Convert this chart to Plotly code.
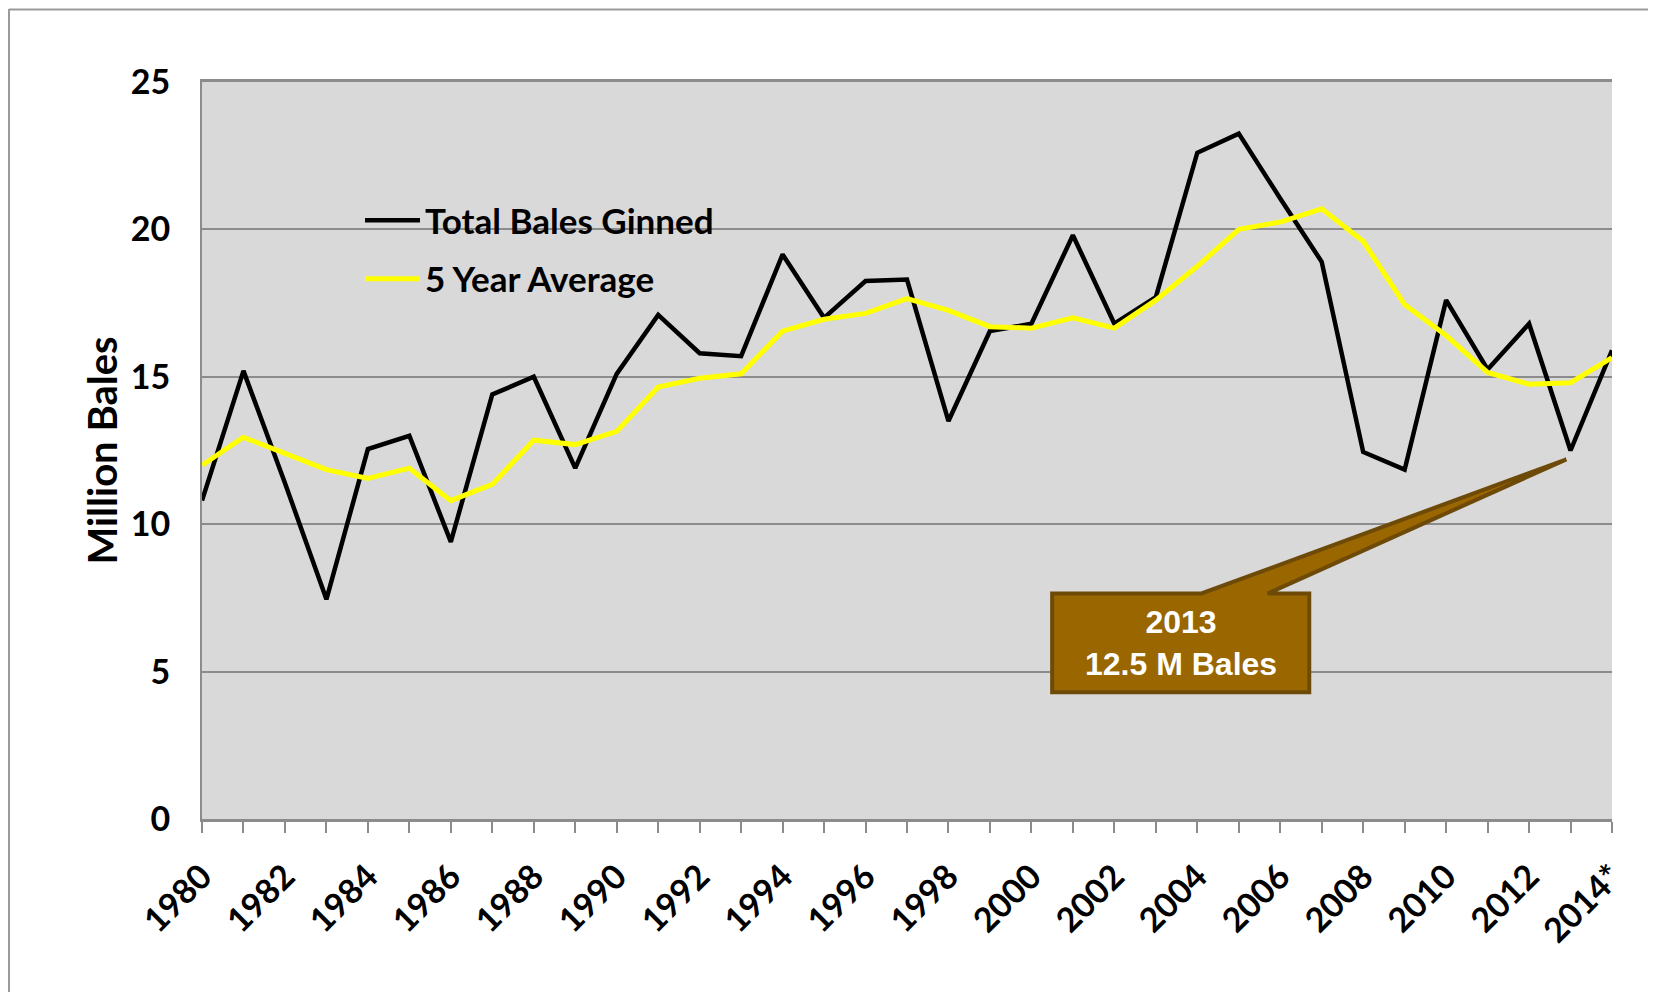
import plotly.graph_objects as go

years = list(range(1980, 2015))
year_labels = [str(y) if y % 2 == 0 else "" for y in years]
year_labels[-1] = "2014*"

total_bales = [10.8, 15.2, 11.4, 7.45, 12.55, 13.0, 9.4, 14.4, 15.0, 11.9,
               15.1, 17.1, 15.8, 15.7, 19.15, 17.0, 18.25, 18.3, 13.5, 16.55,
               16.8, 19.8, 16.8, 17.7, 22.6, 23.25, 21.05, 18.9, 12.45, 11.85,
               17.6, 15.25, 16.8, 12.5, 15.9]
five_yr_avg = [12.0, 12.95, 12.4, 11.85, 11.55, 11.9, 10.8, 11.35, 12.85, 12.7,
               13.15, 14.65, 14.95, 15.1, 16.55, 16.95, 17.15, 17.65, 17.25, 16.7,
               16.65, 17.0, 16.65, 17.6, 18.75, 20.0, 20.25, 20.7, 19.6, 17.45,
               16.4, 15.15, 14.75, 14.8, 15.65]

callout_year = 2013
callout_text = "2013<br>12.5 M Bales"

# page body has an 8px margin, so the figure is laid out 8px smaller
W, H = 1648, 984
L, R, T, B = 194, 44, 74, 173
PW, PH = W - L - R, H - T - B


def px(x):
    return (x - L) / PW


def py(y):
    return (H - B - y) / PH


TICKFONT = dict(family="Lato", size=34, color="black", weight="bold")

fig = go.Figure()
fig.add_trace(go.Scatter(x=years, y=total_bales, mode="lines", name="Total Bales Ginned",
                         line=dict(color="black", width=4.5), legendgroup="a"))
fig.add_trace(go.Scatter(x=years, y=five_yr_avg, mode="lines", name="5 Year Average",
                         line=dict(color="#ffff00", width=5), legendgroup="b"))

# callout box with wedge pointing at the 2013 value
i13 = years.index(callout_year)
tip_x, tip_y = callout_year - 0.1, total_bales[i13] - 0.3
bx0, bx1, by0, by1 = 2000.5, 2006.7, 4.3, 7.65
wl, wr = 2004.1, 2005.7
path = (f"M {bx0},{by0} L {bx0},{by1} L {wl},{by1} L {tip_x},{tip_y} "
        f"L {wr},{by1} L {bx1},{by1} L {bx1},{by0} Z")
fig.add_shape(type="path", path=path, xref="x", yref="y",
              fillcolor="#996600", line=dict(color="#6e4a08", width=4))
fig.add_annotation(x=(bx0 + bx1) / 2, y=(by0 + by1) / 2, xref="x", yref="y",
                   text=callout_text, showarrow=False,
                   font=dict(family="Liberation Sans", size=32, color="white", weight="bold"))

# outer slide frame (left and top edges)
fig.add_shape(type="line", xref="paper", yref="paper", x0=px(1), x1=px(1),
              y0=py(H + 5), y1=py(1), line=dict(color="#9a9a9a", width=2))
fig.add_shape(type="line", xref="paper", yref="paper", x0=px(1), x1=px(W + 5),
              y0=py(1.5), y1=py(1.5), line=dict(color="#9a9a9a", width=2))

fig.update_layout(
    width=W, height=H,
    margin=dict(l=L, r=R, t=T, b=B),
    paper_bgcolor="white",
    plot_bgcolor="#d9d9d9",
    showlegend=True,
    legend=dict(x=px(352), y=py(183), xanchor="left", yanchor="top",
                bgcolor="rgba(0,0,0,0)",
                font=dict(family="Lato", size=35, color="black", weight="bold"),
                traceorder="grouped", tracegroupgap=10, itemwidth=55),
    xaxis=dict(range=[1980, 2014], tickmode="array", tickvals=years, ticktext=year_labels,
               tickangle=-45, ticks="outside", ticklen=11, tickcolor="#8c8c8c", tickwidth=2,
               showline=True, mirror=True, linecolor="#8c8c8c", linewidth=3, showgrid=False,
               zeroline=False, tickfont=TICKFONT, ticklabelstandoff=10),
    yaxis=dict(range=[0, 25], tickvals=[0, 5, 10, 15, 20, 25],
               showline=True, linecolor="#8c8c8c", linewidth=2,
               gridcolor="#8c8c8c", gridwidth=2, zeroline=False,
               tickfont=TICKFONT, ticklabelstandoff=23,
               title=dict(text="Million Bales", standoff=1,
                          font=dict(family="Lato", size=40, color="black", weight="bold"))),
)

fig.write_html("out.html")
